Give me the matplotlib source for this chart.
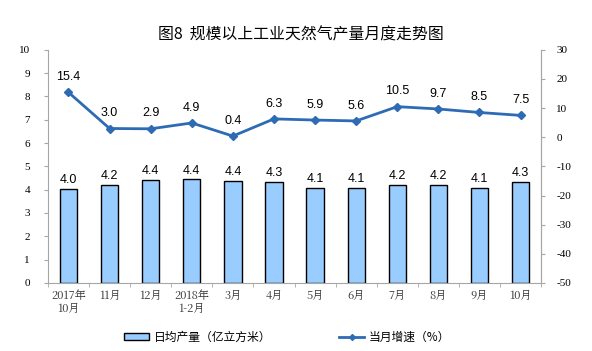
import matplotlib.pyplot as plt
from matplotlib.lines import Line2D
from matplotlib.patches import Patch
import numpy as np

plt.rcParams['font.family'] = ['Noto Sans CJK SC', 'DejaVu Sans']

# === Dati ===
months = ["2017年\n10月", "11月", "12月", "2018年\n1-2月", "3月", "4月",
          "5月", "6月", "7月", "8月", "9月", "10月"]
daily_output = [4.02, 4.22, 4.41, 4.44, 4.38, 4.32, 4.07, 4.06, 4.21, 4.19, 4.06, 4.34]
growth = [15.4, 3.0, 2.9, 4.9, 0.4, 6.3, 5.9, 5.6, 10.5, 9.7, 8.5, 7.5]

bar_color = "#99CCFF"
line_color = "#2E6BB5"
axis_gray = "#A6A6A6"
serif = "Liberation Serif"
sans = "Liberation Sans"

fig = plt.figure(figsize=(5.92, 3.51), dpi=100)
ax = fig.add_axes([0.081, 0.194, 0.833, 0.664])
x = np.arange(len(months))

ax.bar(x, daily_output, width=0.42, color=bar_color, edgecolor="black", linewidth=1.0, zorder=2)
for xi, v in zip(x, daily_output):
    ax.text(xi, v + 0.12, f"{v:.1f}", ha="center", va="bottom", fontsize=9, family=sans)

ax.set_xlim(-0.5, len(months) - 0.5)
ax.set_ylim(0, 10)
ax.set_yticks(range(0, 11))
ax.set_yticklabels([str(i) for i in range(0, 11)], family=serif, fontsize=8)
ax.set_xticks(x)
ax.set_xticklabels(months, fontsize=8, family=["Noto Serif CJK SC", "Noto Sans CJK SC", "DejaVu Sans"], linespacing=1.1)
ax.tick_params(axis="x", length=0, pad=5, colors="#333333")
ax.set_xticks(np.arange(-0.5, len(months), 1), minor=True)
ax.tick_params(axis="x", which="minor", length=3, color=axis_gray, direction="out")
ax.tick_params(axis="y", length=3, color=axis_gray, direction="out", pad=10)

ax.spines["top"].set_visible(False)
for s in ["left", "bottom", "right"]:
    ax.spines[s].set_color(axis_gray)

ax2 = ax.twinx()
ax2.plot(x, growth, color=line_color, linewidth=2, marker="D", markersize=4, zorder=3)
for xi, v in zip(x, growth):
    ax2.text(xi, v + 3.2, f"{v:.1f}", ha="center", va="bottom", fontsize=9, family=sans)
ax2.set_ylim(-50, 30)
ax2.set_yticks(range(-50, 31, 10))
ax2.set_yticklabels([str(i) for i in range(-50, 31, 10)], family=serif, fontsize=8)
ax2.tick_params(axis="y", length=3, color=axis_gray, direction="out", pad=8)
for s in ["top", "left", "bottom"]:
    ax2.spines[s].set_visible(False)
ax2.spines["right"].set_color(axis_gray)

fig.text(0.508, 0.9, "图8  规模以上工业天然气产量月度走势图", ha="center", va="center", fontsize=11.4)

handles = [Patch(facecolor=bar_color, edgecolor="black", linewidth=1.0),
           Line2D([0], [0], color=line_color, linewidth=2, marker="D", markersize=3)]
fig.legend(handles, ["日均产量（亿立方米）", "当月增速（%）"], loc="center", bbox_to_anchor=(0.485, 0.04),
           ncol=2, frameon=False, fontsize=8.5, columnspacing=5.8, handlelength=2.1,
           handleheight=0.5, handletextpad=0.4)

plt.savefig("out.png", dpi=100)
plt.close()
